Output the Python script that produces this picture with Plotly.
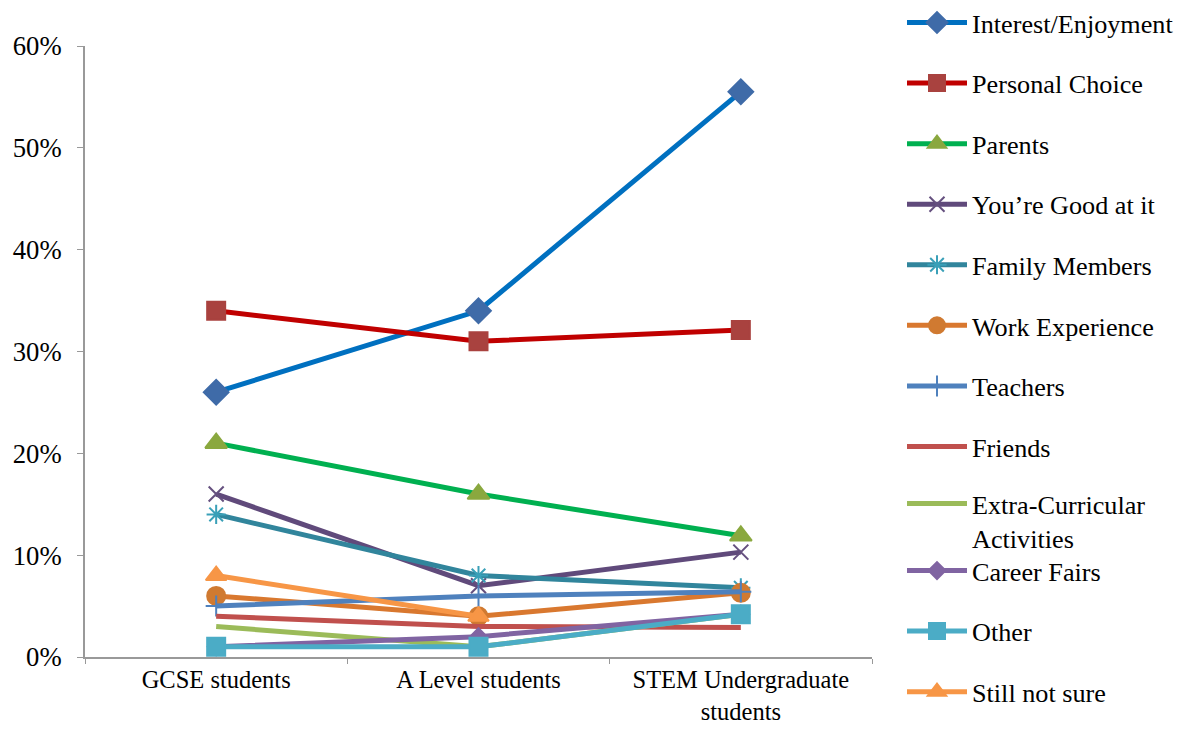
import plotly.graph_objects as go

categories = ["GCSE students", "A Level students", "STEM Undergraduate<br>students"]

series_names = ["Interest/Enjoyment", "Personal Choice", "Parents", "You\u2019re Good at it",
                "Family Members", "Work Experience", "Teachers", "Friends",
                "Extra-Curricular<br>Activities", "Career Fairs", "Other", "Still not sure"]

interest = [0.26, 0.34, 0.555]
personal_choice = [0.34, 0.31, 0.321]
parents = [0.21, 0.16, 0.119]
good_at_it = [0.16, 0.07, 0.103]
family_members = [0.14, 0.08, 0.068]
work_experience = [0.06, 0.04, 0.063]
teachers = [0.05, 0.06, 0.064]
friends = [0.04, 0.03, 0.029]
extra_curricular = [0.03, 0.01, 0.042]
career_fairs = [0.01, 0.02, 0.042]
other = [0.01, 0.01, 0.042]
still_not_sure = [0.08, 0.04, None]

values = [interest, personal_choice, parents, good_at_it, family_members, work_experience,
          teachers, friends, extra_curricular, career_fairs, other, still_not_sure]

styles = [
    dict(line="#0070C0", marker="#3F6BA8", symbol="diamond", size=19),
    dict(line="#C00000", marker="#A9423F", symbol="square", size=18),
    dict(line="#00B050", marker="#8AA83F", symbol="triangle-up", size=19),
    dict(line="#604A7B", marker="#65507F", symbol="x-thin", size=15),
    dict(line="#31859C", marker="#3AA0B8", symbol="asterisk", size=16),
    dict(line="#D9782F", marker="#D07A31", symbol="circle", size=18),
    dict(line="#4F81BD", marker="#4F81BD", symbol="cross-thin", size=15),
    dict(line="#C0504D", marker="#C0504D", symbol=None, size=0),
    dict(line="#9BBB59", marker="#9BBB59", symbol=None, size=0),
    dict(line="#8064A2", marker="#8064A2", symbol="diamond", size=13),
    dict(line="#4BACC6", marker="#4BACC6", symbol="square", size=18),
    dict(line="#F79646", marker="#F79646", symbol="triangle-up", size=18),
]
legend_ids = ["legend"] * 8 + ["legend2"] + ["legend3"] * 3

fig = go.Figure()
for i, (name, vals, st) in enumerate(zip(series_names, values, styles)):
    if st["symbol"] is None:
        mode = "lines"
        marker = dict()
    else:
        mode = "lines+markers"
        marker = dict(symbol=st["symbol"], size=st["size"], color=st["marker"],
                      line=dict(color=st["marker"], width=2))
    fig.add_trace(go.Scatter(
        x=categories, y=vals, name=name, mode=mode,
        line=dict(color=st["line"], width=5),
        marker=marker, legendgroup=f"g{i}", legend=legend_ids[i], connectgaps=False,
    ))

# the page body has an 8px margin: work in page pixels and shift
OFF = 8
W, H = 1182 - OFF, 729 - OFF


def fx(x):
    return (x - OFF) / W


def fy(y):
    return 1 - (y - OFF) / H


font_family = "Liberation Serif, Times New Roman, serif"
FS = 26.7
XFS = 24.5
LFS = 26.2
leg_common = dict(x=fx(902), xanchor="left", yanchor="top",
                  font=dict(family=font_family, size=LFS, color="black"),
                  tracegroupgap=23.5, bgcolor="rgba(0,0,0,0)", valign="top",
                  itemwidth=60, maxheight=700)

fig.update_layout(
    width=W, height=H,
    margin=dict(l=0, r=0, t=0, b=0, autoexpand=False),
    plot_bgcolor="white", paper_bgcolor="white",
    font=dict(family=font_family, size=FS, color="black"),
    showlegend=True,
    legend=dict(leg_common, y=fy(-1)),
    legend2=dict(leg_common, y=fy(480)),
    legend3=dict(leg_common, y=fy(547)),
    xaxis=dict(type="category", range=[-0.5, 2.5], domain=[fx(85), fx(872)],
               showgrid=False, showline=True, automargin=False,
               linecolor="#999999", linewidth=2, ticks="outside", tickson="boundaries",
               ticklen=5, tickcolor="#999999", tickfont=dict(size=XFS),
               ticklabelstandoff=0),
    yaxis=dict(range=[0, 0.6], dtick=0.1, tickformat=".0%", domain=[fy(657), fy(46)],
               showgrid=False, showline=True, automargin=False,
               linecolor="#999999", linewidth=2, ticks="outside", ticklen=6,
               tickcolor="#999999", zeroline=False, tickfont=dict(size=FS),
               ticklabelstandoff=10),
)

fig.write_html("out.html")
